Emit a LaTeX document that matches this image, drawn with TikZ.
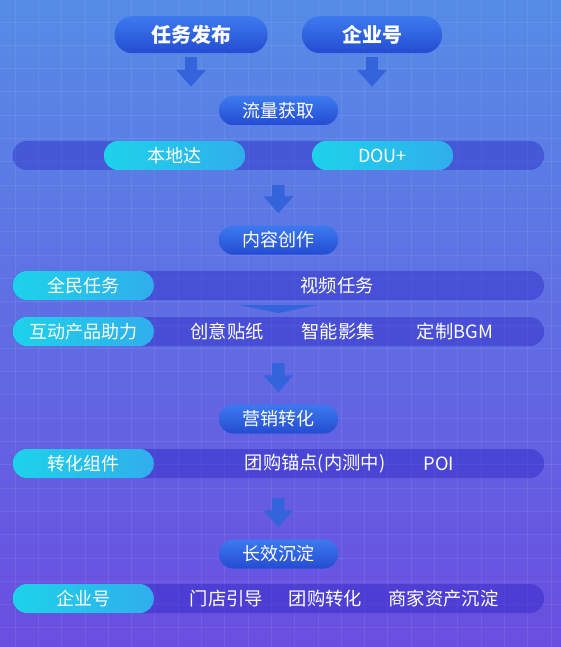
\documentclass[tikz,border=0pt]{standalone}
\usepackage{fontspec}
\setmainfont{Noto Sans CJK SC}
\usepackage{tikz}
\usepackage{xcolor}
\usetikzlibrary{arrows.meta}
\definecolor{BgTop}{HTML}{568CE6}
\definecolor{BgBottom}{HTML}{6A4EE0}
\definecolor{BarNC}{HTML}{1C16BE}
\definecolor{BlueTop}{HTML}{3C7AEE}
\definecolor{BlueBottom}{HTML}{244CD2}
\definecolor{CyanLeft}{HTML}{1ED2EA}
\definecolor{CyanRight}{HTML}{30AEEC}
\definecolor{ArrowNC}{HTML}{3464DC}
\newcommand\nodepub{任务发布}
\newcommand\nodeent{企业号}
\newcommand\nodeflow{流量获取}
\newcommand\nodelocal{本地达}
\newcommand\nodedou{DOU+}
\newcommand\nodecreate{内容创作}
\newcommand\nodeall{全民任务}
\newcommand\nodevideo{视频任务}
\newcommand\nodeinter{互动产品助力}
\newcommand\nodesticker{创意贴纸}
\newcommand\nodealbum{智能影集}
\newcommand\nodebgm{定制BGM}
\newcommand\nodemarket{营销转化}
\newcommand\nodecomp{转化组件}
\newcommand\nodeanc{团购锚点(内测中)}
\newcommand\nodepoi{POI}
\newcommand\nodesettle{长效沉淀}
\newcommand\nodeshop{门店引导}
\newcommand\nodegroup{团购转化}
\newcommand\nodeasset{商家资产沉淀}
\tikzstyle{pill} = [rectangle, rounded corners=14pt, inner sep=0pt, minimum height=29pt, text=white, font=\fontsize{18}{18}\selectfont]
\tikzstyle{bp} = [pill, top color=BlueTop, bottom color=BlueBottom, minimum width=119pt]
\tikzstyle{tp} = [bp, minimum height=37pt, rounded corners=18pt, font=\fontsize{20}{20}\selectfont\bfseries]
\tikzstyle{cp} = [pill, left color=CyanLeft, right color=CyanRight, minimum width=141pt]
\tikzstyle{bar} = [pill, fill=BarNC, fill opacity=0.35, minimum width=531.5pt]
\tikzstyle{lbl} = [text=white, inner sep=0pt, font=\fontsize{18.3}{18}\selectfont]
\tikzset{bigarrow/.style={draw=ArrowNC, line width=12.5pt, -{Triangle[width=29pt, length=17pt]}, shorten >=12pt}}

\begin{document}
\begin{tikzpicture}[x=1pt, y=-1pt]
\useasboundingbox (0, 0) rectangle (561, 647);
\fill[top color=BgTop, bottom color=BgBottom] (0, 0) rectangle (561, 647);
\foreach \g in {15, 38.3, ..., 561}
  \draw[white, opacity=0.07, line width=0.8pt] (\g, 0) -- (\g, 647);
\foreach \g in {22, 45.3, ..., 647}
  \draw[white, opacity=0.07, line width=0.8pt] (0, \g) -- (561, \g);
% sources
\node[tp, minimum width=153pt] (pub) at (191, 34.7) {\nodepub};
\node[tp, minimum width=140pt] (ent) at (372, 34.7) {\nodeent};
% flow
\node[bp] (flow) at (278.5, 110.5) {\nodeflow};
\node[bar] (bar1) at (278.25, 155.5) {};
\node[cp] (local) at (174.5, 155.5) {\nodelocal};
\node[cp] (dou) at (382.5, 155.5) {\nodedou};
% creation
\node[bp] (create) at (278.5, 240) {\nodecreate};
\node[bar] (bar2) at (278.25, 285.5) {};
\node[cp] (all) at (83.25, 285.5) {\nodeall};
\node[lbl] (video) at (337, 285.5) {\nodevideo};
\fill[ArrowNC] (239, 305) -- (318, 305) -- (278.5, 313) -- cycle;
\node[bar] (bar3) at (278.25, 331.5) {};
\node[cp] (inter) at (83.25, 331.5) {\nodeinter};
\node[lbl] (sticker) at (227, 331.5) {\nodesticker};
\node[lbl] (album) at (338, 331.5) {\nodealbum};
\node[lbl] (bgm) at (455, 331.5) {\nodebgm};
% marketing
\node[bp] (market) at (278.5, 419) {\nodemarket};
\node[bar] (bar4) at (278.25, 463.5) {};
\node[cp] (comp) at (83.25, 463.5) {\nodecomp};
\node[lbl] (anc) at (315, 463.5) {\nodeanc};
\node[lbl] (poi) at (439, 463.5) {\nodepoi};
% settle
\node[bp] (settle) at (278.5, 554) {\nodesettle};
\node[bar] (bar5) at (278.25, 598.5) {};
\node[cp] (ent2) at (83.25, 598.5) {\nodeent};
\node[lbl] (shop) at (226.5, 598.5) {\nodeshop};
\node[lbl] (group) at (325.5, 598.5) {\nodegroup};
\node[lbl] (asset) at (443.5, 598.5) {\nodeasset};
\draw [bigarrow, shorten <=4pt, shorten >=9pt] (pub.south) -- (pub.south |- flow.north);
\draw [bigarrow, shorten <=4pt, shorten >=9pt] (ent.south) -- (ent.south |- flow.north);
\draw [bigarrow, shorten <=15pt] (bar1.south) -- (create.north);
\draw [bigarrow, shorten <=17pt] (bar3.south) -- (market.north);
\draw [bigarrow, shorten <=20pt] (bar4.south) -- (settle.north);
\end{tikzpicture}
\end{document}
